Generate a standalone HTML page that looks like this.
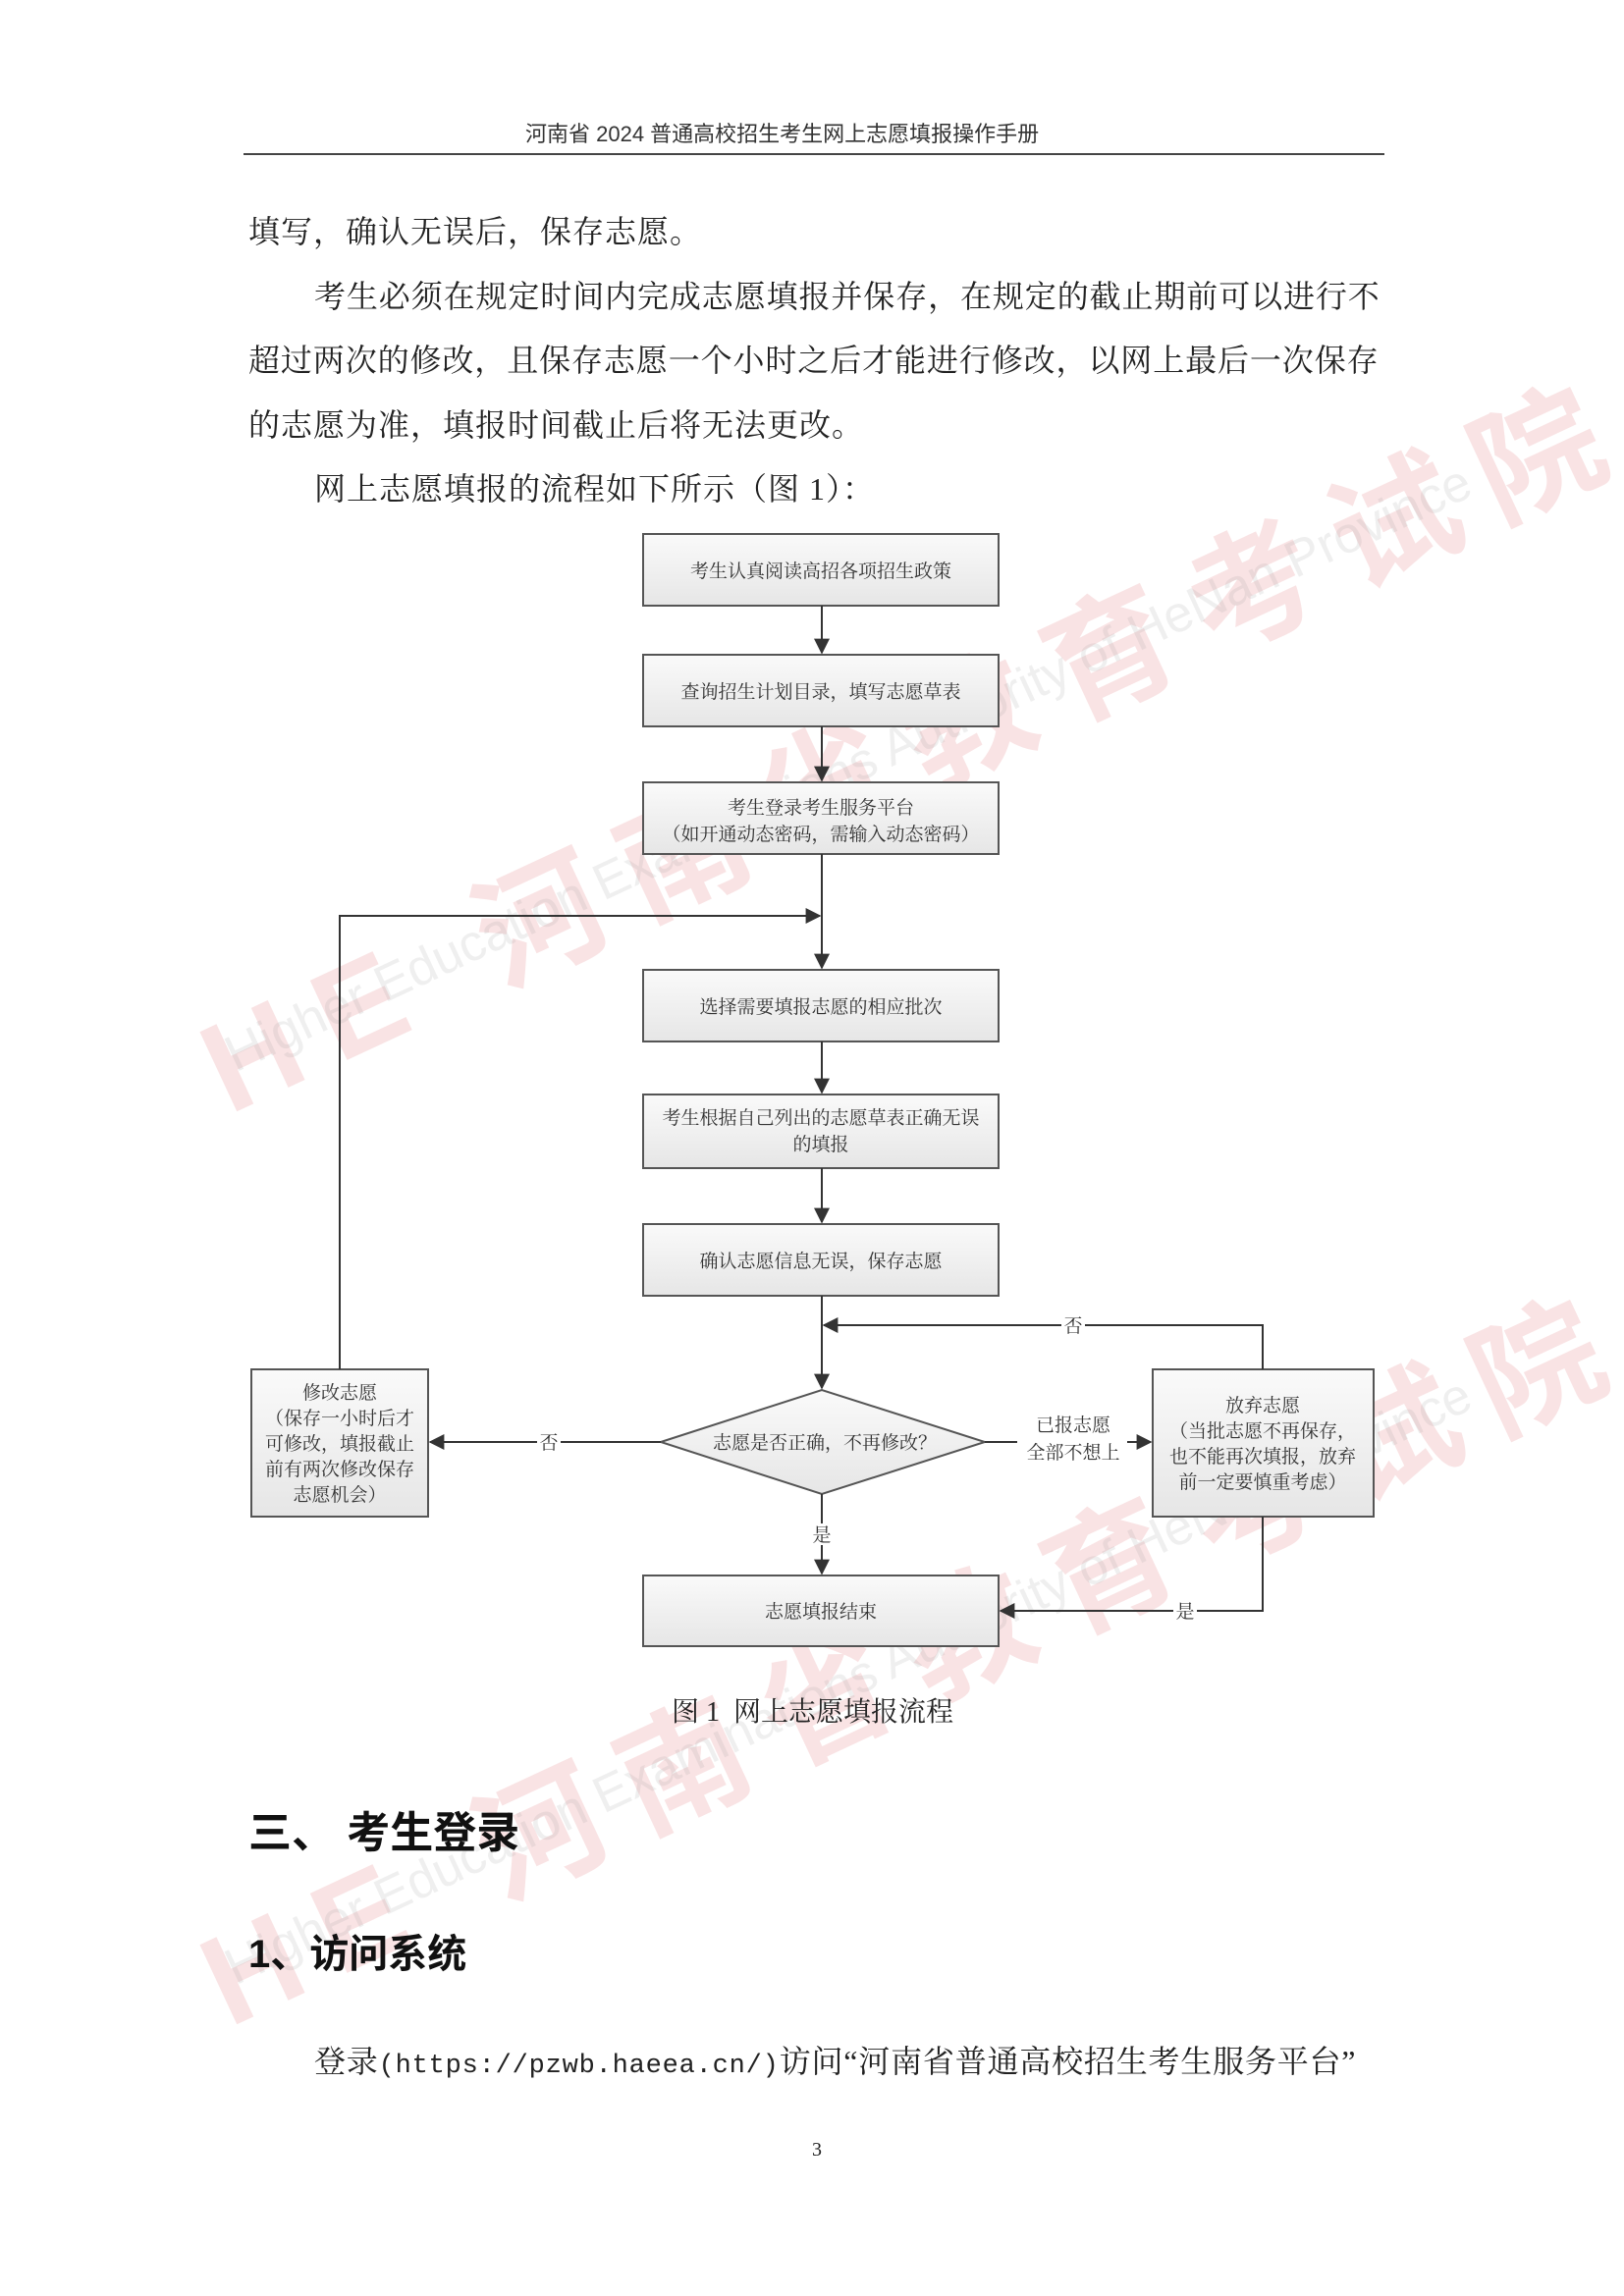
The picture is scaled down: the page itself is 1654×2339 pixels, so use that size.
<!DOCTYPE html>
<html><head><meta charset="utf-8">
<style>
body{margin:0;background:#fff;}
#p{position:relative;width:1654px;height:2339px;overflow:hidden;background:#fff;font-family:"Liberation Serif","Noto Serif CJK SC",serif;color:#222;}
.t{position:absolute;white-space:nowrap;font-size:32px;line-height:1;}
.wm{position:absolute;color:rgba(220,80,90,0.16);font-family:"Liberation Sans","Noto Sans CJK SC",sans-serif;font-weight:bold;white-space:nowrap;transform-origin:left top;}
</style></head><body><div id="p">
<div class="wm" style="left:170px;top:1000px;font-size:130px;transform:rotate(-25deg);letter-spacing:30px;">HE 河南省教育考试院</div>
<div class="wm" style="left:220px;top:1050px;font-size:52px;transform:rotate(-25deg);font-weight:normal;color:rgba(150,150,150,0.15)">Higher Education Examinations Authority of HeNan Province</div>
<div class="wm" style="left:170px;top:1930px;font-size:130px;transform:rotate(-25deg);letter-spacing:30px;">HE 河南省教育考试院</div>
<div class="wm" style="left:220px;top:1980px;font-size:52px;transform:rotate(-25deg);font-weight:normal;color:rgba(150,150,150,0.15)">Higher Education Examinations Authority of HeNan Province</div>

<div class="t" style="left:535px;top:126px;font-size:22px;font-family:'Liberation Sans','Noto Sans CJK SC',sans-serif;color:#333">河南省 2024 普通高校招生考生网上志愿填报操作手册</div>
<div style="position:absolute;left:248px;top:156px;width:1162px;height:2px;background:#444"></div>

<div class="t" style="left:253px;top:220px;letter-spacing:1px">填写，确认无误后，保存志愿。</div>
<div class="t" style="left:320px;top:286px;letter-spacing:0.9px">考生必须在规定时间内完成志愿填报并保存，在规定的截止期前可以进行不</div>
<div class="t" style="left:253px;top:351px;letter-spacing:0.9px">超过两次的修改，且保存志愿一个小时之后才能进行修改，以网上最后一次保存</div>
<div class="t" style="left:253px;top:417px;letter-spacing:1px">的志愿为准，填报时间截止后将无法更改。</div>
<div class="t" style="left:320px;top:482px;letter-spacing:1px">网上志愿填报的流程如下所示（图 1）：</div>

<svg style="position:absolute;left:0;top:0" width="1654" height="2339" font-family="Liberation Serif, Noto Serif CJK SC, serif" font-size="19" fill="#333">
<defs>
<linearGradient id="g" x1="0" y1="0" x2="0" y2="1"><stop offset="0" stop-color="#fafafa"/><stop offset="1" stop-color="#e6e6e6"/></linearGradient>
<marker id="b" viewBox="0 0 10 10" markerWidth="16" markerHeight="16" refX="9" refY="5" orient="auto" markerUnits="userSpaceOnUse"><path d="M0,0 L10,5 L0,10 z" fill="#333"/></marker>
</defs>
<g stroke="#555" stroke-width="2" fill="url(#g)">
<rect x="655" y="544" width="362" height="73"/>
<rect x="655" y="667" width="362" height="73"/>
<rect x="655" y="797" width="362" height="73"/>
<rect x="655" y="988" width="362" height="73"/>
<rect x="655" y="1115" width="362" height="75"/>
<rect x="655" y="1247" width="362" height="73"/>
<rect x="256" y="1395" width="180" height="150"/>
<rect x="1174" y="1395" width="225" height="150"/>
<rect x="655" y="1605" width="362" height="72"/>
<polygon points="673,1469 837,1416 1003,1469 837,1522"/>
</g>
<g stroke="#333" stroke-width="2" fill="none">
<line x1="837" y1="617" x2="837" y2="665" marker-end="url(#b)"/>
<line x1="837" y1="740" x2="837" y2="795" marker-end="url(#b)"/>
<line x1="837" y1="870" x2="837" y2="986" marker-end="url(#b)"/>
<polyline points="346,1395 346,933 835,933" marker-end="url(#b)"/>
<line x1="837" y1="1061" x2="837" y2="1113" marker-end="url(#b)"/>
<line x1="837" y1="1190" x2="837" y2="1245" marker-end="url(#b)"/>
<line x1="837" y1="1320" x2="837" y2="1414" marker-end="url(#b)"/>
<polyline points="1286,1395 1286,1350 839,1350" marker-end="url(#b)"/>
<line x1="673" y1="1469" x2="438" y2="1469" marker-end="url(#b)"/>
<line x1="1003" y1="1469" x2="1172" y2="1469" marker-end="url(#b)"/>
<line x1="837" y1="1522" x2="837" y2="1603" marker-end="url(#b)"/>
<polyline points="1286,1545 1286,1641 1019,1641" marker-end="url(#b)"/>
</g>
<g text-anchor="middle">
<text x="836" y="588">考生认真阅读高招各项招生政策</text>
<text x="836" y="711">查询招生计划目录，填写志愿草表</text>
<text x="836" y="829">考生登录考生服务平台</text>
<text x="836" y="856">（如开通动态密码，需输入动态密码）</text>
<text x="836" y="1032">选择需要填报志愿的相应批次</text>
<text x="836" y="1145">考生根据自己列出的志愿草表正确无误</text>
<text x="836" y="1172">的填报</text>
<text x="836" y="1291">确认志愿信息无误，保存志愿</text>
<text x="840" y="1476">志愿是否正确，不再修改？</text>
<text x="346" y="1425">修改志愿</text>
<text x="346" y="1451">（保存一小时后才</text>
<text x="346" y="1477">可修改，填报截止</text>
<text x="346" y="1503">前有两次修改保存</text>
<text x="346" y="1529">志愿机会）</text>
<text x="1286" y="1438">放弃志愿</text>
<text x="1286" y="1464">（当批志愿不再保存，</text>
<text x="1286" y="1490">也不能再次填报，放弃</text>
<text x="1286" y="1516">前一定要慎重考虑）</text>
<text x="836" y="1648">志愿填报结束</text>
<rect x="547" y="1458" width="24" height="22" fill="#fff"/><text x="559" y="1476">否</text>
<rect x="1081" y="1339" width="24" height="22" fill="#fff"/><text x="1093" y="1357">否</text>
<rect x="1195" y="1630" width="24" height="22" fill="#fff"/><text x="1207" y="1648">是</text>
<rect x="825" y="1552" width="24" height="22" fill="#fff"/><text x="837" y="1570">是</text>
<rect x="1036" y="1436" width="112" height="56" fill="#fff"/>
<text x="1093" y="1458">已报志愿</text>
<text x="1093" y="1486">全部不想上</text>
</g>
</svg>

<div class="t" style="left:684px;top:1731px;font-size:28px">图 1&nbsp;&nbsp;网上志愿填报流程</div>
<div class="t" style="left:253px;top:1846px;font-size:44px;font-weight:bold;font-family:'Liberation Sans','Noto Sans CJK SC',sans-serif;color:#111">三、 考生登录</div>
<div class="t" style="left:253px;top:1971px;font-size:40px;font-weight:bold;font-family:'Liberation Sans','Noto Sans CJK SC',sans-serif;color:#111">1、访问系统</div>
<div class="t" style="left:320px;top:2084px;font-size:32px;letter-spacing:0.8px">登录<span style="font-family:'Liberation Mono',monospace;font-size:27px">(https://pzwb.haeea.cn/)</span>访问“河南省普通高校招生考生服务平台”</div>
<div class="t" style="left:827px;top:2180px;font-size:20px">3</div>
</div></body></html>
